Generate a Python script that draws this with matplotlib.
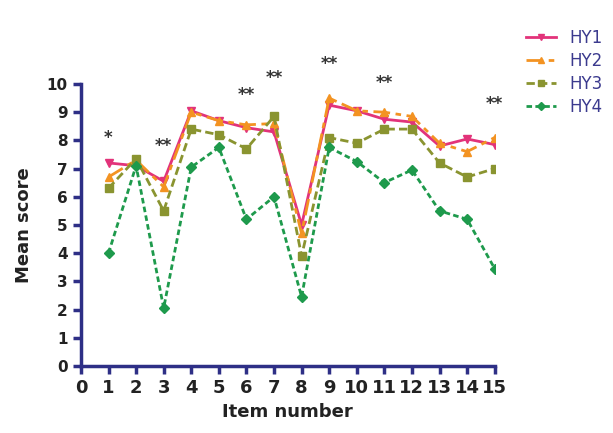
import matplotlib.pyplot as plt

items = list(range(1, 16))
hy1 = [7.2, 7.1, 6.55, 9.05, 8.7, 8.45, 8.3, 5.0, 9.25, 9.05, 8.75, 8.65, 7.8, 8.05, 7.85]
hy2 = [6.7, 7.3, 6.35, 9.0, 8.7, 8.55, 8.6, 4.7, 9.5, 9.05, 9.0, 8.85, 7.9, 7.6, 8.1]
hy3 = [6.3, 7.35, 5.5, 8.4, 8.2, 7.7, 8.85, 3.9, 8.1, 7.9, 8.4, 8.4, 7.2, 6.7, 7.0]
hy4 = [4.0, 7.1, 2.05, 7.05, 7.75, 5.2, 6.0, 2.45, 7.75, 7.25, 6.5, 6.95, 5.5, 5.2, 3.45]

# significance marks: item, label, height
sig_x = [1, 3, 6, 7, 9, 11, 15]
sig_txt = ["*", "**", "**", "**", "**", "**", "**"]
sig_y = [8.1, 7.8, 9.6, 10.2, 10.7, 10.05, 9.3]

navy = "#2e2f86"

fig = plt.figure(figsize=(6.13, 4.33), dpi=100)
ax = fig.add_axes([0.132, 0.155, 0.675, 0.651])

ax.plot(items, hy1, color="#e2337a", lw=2, ls="-", marker="v", ms=6, label="HY1")
ax.plot(items, hy2, color="#f39322", lw=2, ls=(0, (6, 2, 2, 2)), marker="^", ms=6, label="HY2")
ax.plot(items, hy3, color="#8a9430", lw=2, ls=(0, (3, 1.5)), marker="s", ms=6, label="HY3")
ax.plot(items, hy4, color="#1e9a4c", lw=2, ls=(0, (2, 1.2)), marker="D", ms=5.5, label="HY4")

for x, t, y in zip(sig_x, sig_txt, sig_y):
    ax.text(x, y, t, ha="center", va="center", fontsize=12, fontweight="bold",
            color="#333333", clip_on=False)

ax.set_xlim(0, 15)
ax.set_ylim(0, 10)
ax.set_xticks(range(0, 16))
ax.set_yticks(range(0, 11))
for s in ["top", "right"]:
    ax.spines[s].set_visible(False)
for s in ["left", "bottom"]:
    ax.spines[s].set_color(navy)
    ax.spines[s].set_linewidth(2.5)
ax.tick_params(axis="both", colors=navy, width=2.5, length=6, direction="out")
ax.tick_params(axis="x", labelsize=13, labelcolor="#222222")
ax.tick_params(axis="y", labelsize=11, labelcolor="#222222")
for lab in ax.get_xticklabels() + ax.get_yticklabels():
    lab.set_fontweight("bold")

ax.set_xlabel("Item number", fontsize=13, fontweight="bold", color="#222222")
ax.set_ylabel("Mean score", fontsize=13, fontweight="bold", color="#222222",
              labelpad=10)

leg = ax.legend(loc="upper left", bbox_to_anchor=(1.04, 1.25), frameon=False,
                fontsize=12, handlelength=1.8, labelspacing=0.3, markerscale=0.7)
for t in leg.get_texts():
    t.set_color("#3b3a8e")

fig.savefig("out.png", dpi=100)
